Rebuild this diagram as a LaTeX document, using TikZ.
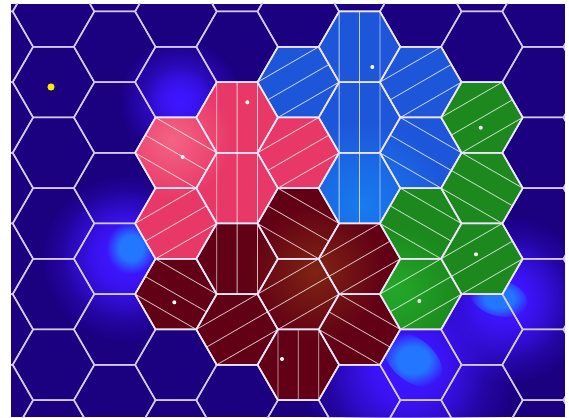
\documentclass[tikz,border=0pt]{standalone}
\usetikzlibrary{fadings}
\definecolor{bgnavy}{RGB}{27,0,128}
\definecolor{glowviolet}{RGB}{62,22,255}
\definecolor{glowcyan}{RGB}{35,118,255}
\definecolor{gridlav}{RGB}{215,200,242}
\definecolor{celledgecol}{RGB}{236,230,246}
\definecolor{pinkfill}{RGB}{232,56,104}
\definecolor{pinkglow}{RGB}{244,100,132}
\definecolor{bluefill}{RGB}{30,86,218}
\definecolor{blueglow}{RGB}{24,124,240}
\definecolor{greenfill}{RGB}{28,136,30}
\definecolor{greenglow}{RGB}{36,168,42}
\definecolor{maroonfill}{RGB}{98,0,22}
\definecolor{maroonglow}{RGB}{128,36,20}
\definecolor{dotyellow}{RGB}{255,235,0}
\tikzfading[name=glowfade, inner color=transparent!0, outer color=transparent!100]
\pgfdeclareradialshading{spotshade}{\pgfpoint{0bp}{0bp}}{color(0bp)=(white); color(12bp)=(white); color(25bp)=(black); color(50bp)=(black)}
\pgfdeclarefading{spotfade}{\pgfuseshading{spotshade}}

% hexagon (flat top), centre (#1,#2) in pixel units, y downwards
\newcommand\hexp[2]{({#1+40.8},{#2}) -- ({#1+20.4},{#2-35.33}) -- ({#1-20.4},{#2-35.33}) -- ({#1-40.8},{#2}) -- ({#1-20.4},{#2+35.33}) -- ({#1+20.4},{#2+35.33}) -- cycle}
% stripes: vertical
\newcommand\stV[2]{({#1-20.4},{#2-35.33}) -- ({#1-20.4},{#2+35.33}) ({#1},{#2-35.33}) -- ({#1},{#2+35.33}) ({#1+20.4},{#2-35.33}) -- ({#1+20.4},{#2+35.33})}
% stripes: descending to the right
\newcommand\stD[2]{({#1-20.4},{#2-35.33}) -- ({#1+40.8},{#2}) ({#1-40.8},{#2}) -- ({#1+20.4},{#2+35.33}) ({#1-30.6},{#2-17.67}) -- ({#1+30.6},{#2+17.67})}
% stripes: ascending to the right
\newcommand\stA[2]{({#1+40.8},{#2}) -- ({#1-20.4},{#2+35.33}) ({#1+20.4},{#2-35.33}) -- ({#1-40.8},{#2}) ({#1+30.6},{#2-17.67}) -- ({#1-30.6},{#2+17.67})}

\newcommand\pinkregion{\hexp{237.1}{117.46} \hexp{175.9}{152.82} \hexp{298.3}{152.82} \hexp{237.1}{188.12} \hexp{175.9}{223.48}}
\newcommand\blueregion{\hexp{359.5}{46.8} \hexp{359.5}{117.46} \hexp{359.5}{188.12} \hexp{298.3}{82.16} \hexp{420.7}{82.16} \hexp{420.7}{152.82}}
\newcommand\greenregion{\hexp{481.9}{117.46} \hexp{481.9}{188.12} \hexp{420.7}{223.48} \hexp{481.9}{258.78} \hexp{420.7}{294.14}}
\newcommand\maroonregion{\hexp{237.1}{258.78} \hexp{175.9}{294.14} \hexp{298.3}{223.48} \hexp{298.3}{294.14} \hexp{237.1}{329.44} \hexp{359.5}{258.78} \hexp{359.5}{329.44} \hexp{298.3}{364.8}}

\tikzset{
  gridline/.style={draw=gridlav, line width=1.5pt, line join=round},
  celledge/.style={draw=celledgecol, line width=1.5pt, line join=round},
  stripe/.style={draw=white, draw opacity=0.72, line width=0.8pt},
  glow/.style={path fading=glowfade},
  spot/.style={fill=glowcyan, path fading=spotfade},
  citydot/.style={fill=white},
}

\begin{document}
\begin{tikzpicture}[x=1pt,y=-1pt]
\useasboundingbox (0,0) rectangle (569,417);
\fill[bgnavy] (11,4) rectangle (565,417);

\begin{scope}
\clip (11,4) rectangle (565,417);
% background glows
\fill[glowviolet, glow] (180,100) circle (62);
\fill[glowviolet, glow] (180,102) circle (36);
\fill[glowviolet, glow] (125,258) circle (85);
\fill[glowviolet, glow] (126,255) circle (65);
\fill[glowviolet, glow] (128,252) circle (45);
\fill[spot] (131,248) ellipse (25 and 26);
\fill[glowviolet, glow] (408,368) circle (110);
\fill[glowviolet, glow] (406,366) circle (80);
\fill[glowviolet, glow] (410,362) circle (55);
\fill[spot, rotate around={-40:(413,360)}] (413,360) ellipse (34 and 21);
\fill[glowviolet, glow] (508,300) circle (85);
\fill[glowviolet, glow] (505,299) circle (62);
\fill[glowviolet, glow] (500,298) circle (40);
\fill[spot, rotate around={-15:(499,298)}] (499,298) ellipse (29 and 18);

% coloured regions
\fill[pinkfill] \pinkregion;
\begin{scope}\clip \pinkregion; \fill[pinkglow, glow] (172,140) circle (60);\end{scope}
\fill[bluefill] \blueregion;
\begin{scope}\clip \blueregion; \fill[blueglow, glow] (362,205) circle (85);\end{scope}
\fill[greenfill] \greenregion;
\begin{scope}\clip \greenregion; \fill[greenglow, glow] (395,290) circle (65);\end{scope}
\fill[maroonfill] \maroonregion;
\begin{scope}\clip \maroonregion; \fill[maroonglow, glow] (316,272) circle (70);\end{scope}

% stripes
\draw[stripe] \stV{237.1}{117.46} \stD{175.9}{152.82} \stA{298.3}{152.82} \stV{237.1}{188.12} \stA{175.9}{223.48};
\draw[stripe] \stV{359.5}{46.8} \stV{359.5}{117.46} \stV{359.5}{188.12} \stA{298.3}{82.16} \stA{420.7}{82.16} \stD{420.7}{152.82};
\draw[stripe] \stA{481.9}{117.46} \stD{481.9}{188.12} \stD{420.7}{223.48} \stA{481.9}{258.78} \stA{420.7}{294.14};
\draw[stripe] \stV{237.1}{258.78} \stD{175.9}{294.14} \stD{298.3}{223.48} \stA{298.3}{294.14} \stA{237.1}{329.44} \stA{359.5}{258.78} \stD{359.5}{329.44} \stV{298.3}{364.8};

% hex grid
\foreach \c in {-1,...,9} {
  \pgfmathsetmacro\xc{114.7+(\c-1)*61.2}
  \pgfmathsetmacro\yo{mod(\c+2,2)==1 ? 46.8 : 11.5}
  \foreach \k in {-1,...,6} {
    \pgfmathsetmacro\yc{\yo+70.66*\k}
    \draw[gridline] \hexp{\xc}{\yc};
  }
}
% region cell edges
\draw[celledge] \pinkregion \blueregion \greenregion \maroonregion;
\end{scope}

% dots
\fill[dotyellow] (51,87) circle (3.6);
\fill[citydot] (247.3,102.3) circle (2);
\fill[citydot] (182.7,157) circle (2);
\fill[citydot] (372.3,67) circle (2);
\fill[citydot] (480.7,127.7) circle (2);
\fill[citydot] (476,254.3) circle (2);
\fill[citydot] (419.3,301) circle (2);
\fill[citydot] (174.3,302.3) circle (2);
\fill[citydot] (282,359) circle (2);
\end{tikzpicture}
\end{document}
